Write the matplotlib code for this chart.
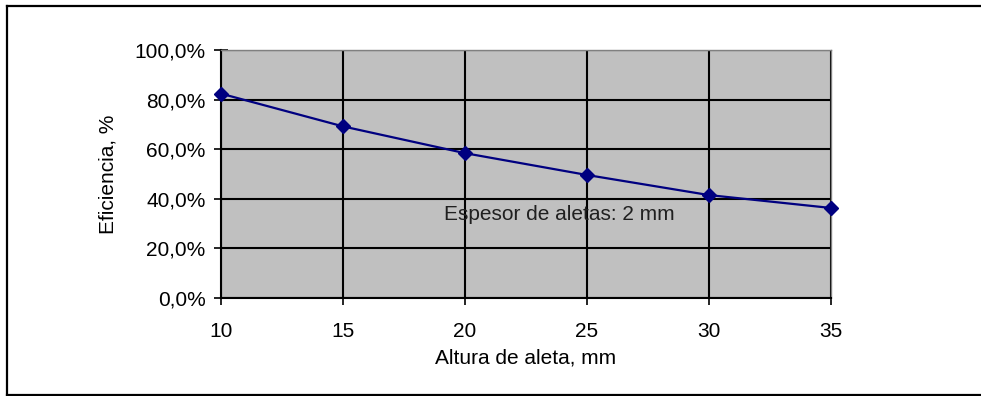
import numpy as np
import matplotlib
matplotlib.use("Agg")
import matplotlib.pyplot as plt
from matplotlib.lines import Line2D
from matplotlib.ticker import FuncFormatter

# datos
altura_mm = [10, 15, 20, 25, 30, 35]
eficiencia = [0.824, 0.692, 0.584, 0.496, 0.415, 0.363]
y_ticks = [0.0, 0.2, 0.4, 0.6, 0.8, 1.0]

plt.rcParams["font.family"] = ["Liberation Sans", "DejaVu Sans"]

fig = plt.figure(figsize=(9.81, 3.96), dpi=100)
ax = fig.add_axes([221 / 981, 98 / 396, 610 / 981, 248 / 396])

ax.set_facecolor("#c0c0c0")
ax.plot(altura_mm, eficiencia, color="#000080", lw=1.6, marker="D",
        markersize=7, markerfacecolor="#000080", markeredgecolor="#000080",
        zorder=3, clip_on=False)

ax.set_xlim(10, 35)
ax.set_ylim(0, 1)
ax.set_xticks(altura_mm)
ax.set_yticks(y_ticks)
ax.yaxis.set_major_formatter(FuncFormatter(lambda v, p: f"{v * 100:.1f}%".replace(".", ",")))

ax.grid(True, color="black", lw=1.5)
ax.set_axisbelow(True)
for side in ["top", "right"]:
    ax.spines[side].set_color("#808080")
    ax.spines[side].set_linewidth(1)
for side in ["left", "bottom"]:
    ax.spines[side].set_color("black")
    ax.spines[side].set_linewidth(1.5)

ax.tick_params(direction="inout", length=10, width=1.2, labelsize=15, colors="black",
               pad=6)
ax.tick_params(axis="x", pad=12)

ax.set_xlabel("Altura de aleta, mm", fontsize=15, labelpad=6)
ax.set_ylabel("Eficiencia, %", fontsize=15, labelpad=12)

ax.text(19.15, 0.335, "Espesor de aletas: 2 mm", fontsize=15, color="#202020",
        va="center", ha="left", zorder=4)

# marco exterior del grafico
for xs, ys in [([7 / 981, 1.0], [1 - 6 / 396] * 2),
               ([7 / 981, 1.0], [1 - 395 / 396] * 2),
               ([7 / 981] * 2, [1 - 6 / 396, 1 - 395 / 396])]:
    fig.add_artist(Line2D(xs, ys, color="black", lw=1.6, transform=fig.transFigure))

fig.savefig("out.png", dpi=100)
